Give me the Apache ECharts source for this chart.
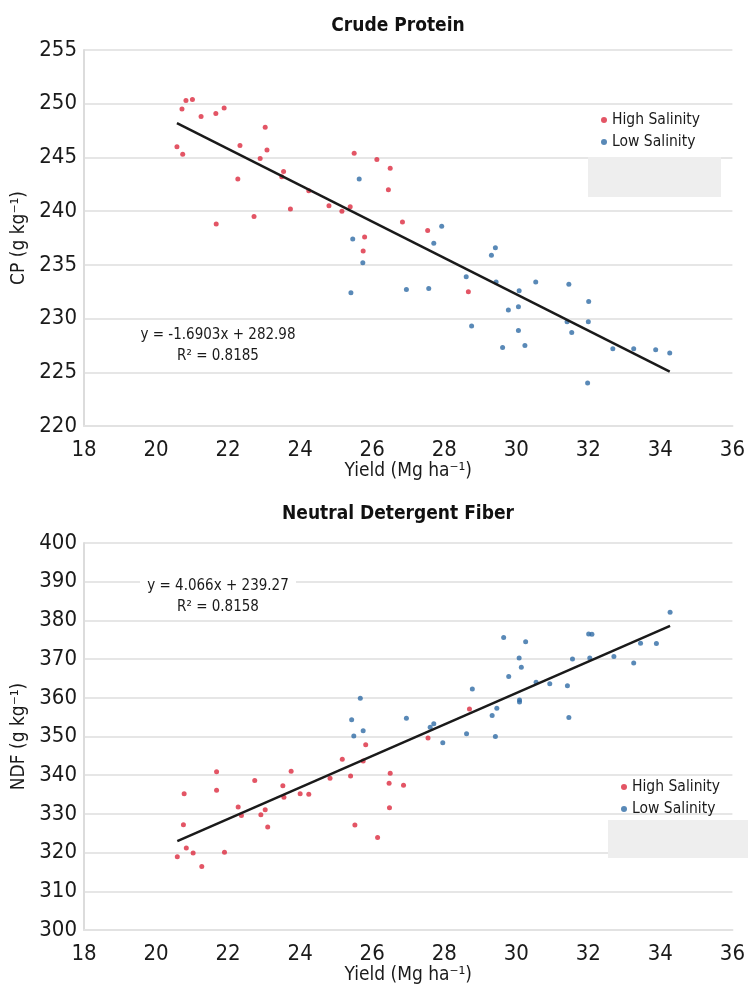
<!DOCTYPE html>
<html>
<head>
<meta charset="utf-8">
<script src="https://cdn.jsdelivr.net/npm/echarts@6/dist/echarts.min.js"></script>
<style>
html, body { margin: 0; padding: 0; background: #fff; }
#chart { width: 748px; height: 996px; }
</style>
</head>
<body>
<div id="chart"></div>
<script>
// yield (Mg/ha) vs crude protein (g/kg)
var highCP = [
    [20.83,250.3],[21.01,250.4],[20.72,249.5],[21.25,248.8],[21.66,249.1],[21.89,249.6],
    [20.58,246.0],[20.74,245.3],[23.03,247.8],[22.33,246.1],[23.08,245.7],[22.89,244.9],
    [23.54,243.7],[23.49,243.2],[22.27,243.0],[22.72,239.5],[21.67,238.8],[23.73,240.2],
    [24.24,241.9],[24.80,240.5],[25.16,240.0],[25.39,240.4],[25.50,245.4],[26.13,244.8],
    [26.50,244.0],[26.45,242.0],[26.84,239.0],[25.79,237.6],[25.75,236.3],[27.54,238.2],
    [28.67,232.5]
];
var lowCP = [
    [25.64,243.0],[25.46,237.4],[25.74,235.2],[25.41,232.4],[26.95,232.7],[27.93,238.6],
    [27.71,237.0],[29.42,236.6],[29.31,235.9],[28.61,233.9],[29.44,233.4],[30.54,233.4],
    [31.46,233.2],[30.08,232.6],[27.57,232.8],[32.01,231.6],[30.06,231.1],[29.78,230.8],
    [31.41,229.7],[32.00,229.7],[31.54,228.7],[28.76,229.3],[30.06,228.9],[29.62,227.3],
    [30.24,227.5],[32.68,227.2],[33.26,227.2],[33.87,227.1],[34.26,226.8],[31.98,224.0]
];
// yield vs neutral detergent fibre (g/kg)
var highNDF = [
    [20.59,318.9],[20.84,321.2],[21.03,319.9],[21.27,316.4],[21.90,320.1],[20.76,327.2],
    [20.78,335.2],[21.68,340.9],[21.68,336.1],[22.28,331.8],[22.37,329.6],[22.74,338.6],
    [22.91,329.8],[23.03,331.1],[23.10,326.6],[23.52,337.3],[23.55,334.3],[23.75,341.0],
    [24.00,335.2],[24.24,335.1],[24.83,339.2],[25.17,344.1],[25.40,339.8],[25.82,347.9],
    [25.75,343.7],[25.52,327.1],[26.15,323.9],[26.50,340.5],[26.47,337.9],[26.48,331.6],
    [26.87,337.4],[27.55,349.6],[28.70,357.1]
];
var lowNDF = [
    [25.43,354.3],[25.49,350.1],[25.75,351.5],[26.95,354.7],[25.67,359.9],[27.61,352.4],
    [27.71,353.3],[27.96,348.4],[28.62,350.7],[29.33,355.4],[29.46,357.3],[29.42,350.0],
    [30.09,358.9],[31.46,354.9],[34.27,382.1],[33.45,374.1],[33.89,374.0],[32.71,370.7],
    [33.26,369.0],[32.01,376.5],[32.10,376.4],[32.04,370.3],[31.56,370.0],[29.65,375.6],
    [30.26,374.5],[30.08,370.3],[30.14,367.9],[29.79,365.5],[30.55,364.0],[30.93,363.6],
    [31.42,363.1],[28.78,362.3],[30.09,359.4]
];

var yieldTicks = [18, 36, 2];   // min, max, step
var cpTicks = [220, 255, 5];
var ndfTicks = [300, 400, 10];

var cpFit = {slope: -1.6903, intercept: 282.98, r2: 'R² = 0.8185', text: 'y = -1.6903x + 282.98'};
var ndfFit = {slope: 4.066, intercept: 239.27, r2: 'R² = 0.8158', text: 'y = 4.066x + 239.27'};

var FONT = "'Liberation Sans Narrow', 'DejaVu Sans Condensed', 'Roboto Condensed', 'Liberation Sans', sans-serif";
var RED = '#dc2a3e';
var BLUE = '#2f6ba5';

// trend line from the fitted equation, over the x range of the points
function fitLine(fit, a, b) {
    var xs = a.concat(b).map(function (p) { return p[0]; });
    var x0 = Math.min.apply(null, xs), x1 = Math.max.apply(null, xs);
    return [[x0, fit.slope * x0 + fit.intercept], [x1, fit.slope * x1 + fit.intercept]];
}

function xAxisOf(i) {
    return {
        type: 'value', gridIndex: i,
        min: yieldTicks[0], max: yieldTicks[1], interval: yieldTicks[2],
        name: 'Yield (Mg ha⁻¹)', nameLocation: 'middle', nameGap: 34,
        nameTextStyle: {fontFamily: FONT, fontSize: 19, color: '#1a1a1a'},
        axisLine: {show: true, lineStyle: {color: '#e2e2e2', width: 2}},
        axisTick: {show: false},
        splitLine: {show: false},
        axisLabel: {fontFamily: FONT, fontSize: 22, color: '#1a1a1a', margin: 13}
    };
}

function yAxisOf(i, ticks, name) {
    return {
        type: 'value', gridIndex: i,
        min: ticks[0], max: ticks[1], interval: ticks[2],
        name: name, nameLocation: 'middle', nameGap: 52, nameRotate: 90,
        nameTextStyle: {fontFamily: FONT, fontSize: 19, color: '#1a1a1a'},
        axisLine: {show: true, lineStyle: {color: '#dcdcdc', width: 2}},
        axisTick: {show: false},
        splitLine: {show: true, lineStyle: {color: '#e6e6e6', width: 2}},
        axisLabel: {fontFamily: FONT, fontSize: 22, color: '#1a1a1a', margin: 7}
    };
}

function dots(name, data, color, i) {
    return {
        name: name, type: 'scatter', xAxisIndex: i, yAxisIndex: i,
        data: data, symbolSize: 5, itemStyle: {color: color}, z: 3
    };
}

// equation + R² text on a white box, each line centred on cx
function equation(fit, cx, cy) {
    return [
        {type: 'rect', z: 50, shape: {x: cx - 78, y: cy - 11, width: 156, height: 42}, style: {fill: '#fff'}},
        {type: 'text', z: 51, x: cx, y: cy, style: {text: fit.text, fontFamily: FONT, fontSize: 15,
            fill: '#1a1a1a', align: 'center', verticalAlign: 'middle'}},
        {type: 'text', z: 51, x: cx, y: cy + 21, style: {text: fit.r2, fontFamily: FONT, fontSize: 15,
            fill: '#1a1a1a', align: 'center', verticalAlign: 'middle'}}
    ];
}

var chart = echarts.init(document.getElementById('chart'));
var option = {
    backgroundColor: '#fff',
    animation: false,
    title: [
        {text: 'Crude Protein', left: 393, top: 12, textAlign: 'center',
         textStyle: {fontFamily: FONT, fontSize: 19, fontWeight: 'bold', color: '#111'}},
        {text: 'Neutral Detergent Fiber', left: 393, top: 500, textAlign: 'center',
         textStyle: {fontFamily: FONT, fontSize: 19, fontWeight: 'bold', color: '#111'}}
    ],
    grid: [
        {left: 84, right: 10, top: 50, height: 376},
        {left: 84, right: 10, top: 543, height: 387}
    ],
    legend: [
        {orient: 'vertical', left: 596, top: 107, itemWidth: 6, itemHeight: 6, itemGap: 6,
         icon: 'circle', data: ['High Salinity', 'Low Salinity'],
         textStyle: {fontFamily: FONT, fontSize: 15.5, color: '#1a1a1a'}},
        {orient: 'vertical', left: 616, top: 774, itemWidth: 6, itemHeight: 6, itemGap: 6,
         icon: 'circle', data: ['High Salinity', 'Low Salinity'],
         textStyle: {fontFamily: FONT, fontSize: 15.5, color: '#1a1a1a'}}
    ],
    xAxis: [xAxisOf(0), xAxisOf(1)],
    yAxis: [yAxisOf(0, cpTicks, 'CP (g kg⁻¹)'), yAxisOf(1, ndfTicks, 'NDF (g kg⁻¹)')],
    series: [
        dots('High Salinity', highCP, RED, 0),
        dots('Low Salinity', lowCP, BLUE, 0),
        {type: 'line', xAxisIndex: 0, yAxisIndex: 0, data: fitLine(cpFit, highCP, lowCP),
         symbol: 'none', lineStyle: {color: '#1a1a1a', width: 2.5}, z: 4},
        dots('High Salinity', highNDF, RED, 1),
        dots('Low Salinity', lowNDF, BLUE, 1),
        {type: 'line', xAxisIndex: 1, yAxisIndex: 1, data: fitLine(ndfFit, highNDF, lowNDF),
         symbol: 'none', lineStyle: {color: '#1a1a1a', width: 2.5}, z: 4}
    ],
    graphic: equation(cpFit, 218, 335).concat(equation(ndfFit, 218, 586), [
        // grey boxes under the legends
        {type: 'rect', shape: {x: 588, y: 157, width: 133, height: 40}, style: {fill: '#eeeeee'}, z: 1},
        {type: 'rect', shape: {x: 608, y: 820, width: 140, height: 38}, style: {fill: '#eeeeee'}, z: 1}
    ])
};
chart.setOption(option);
</script>
</body>
</html>
